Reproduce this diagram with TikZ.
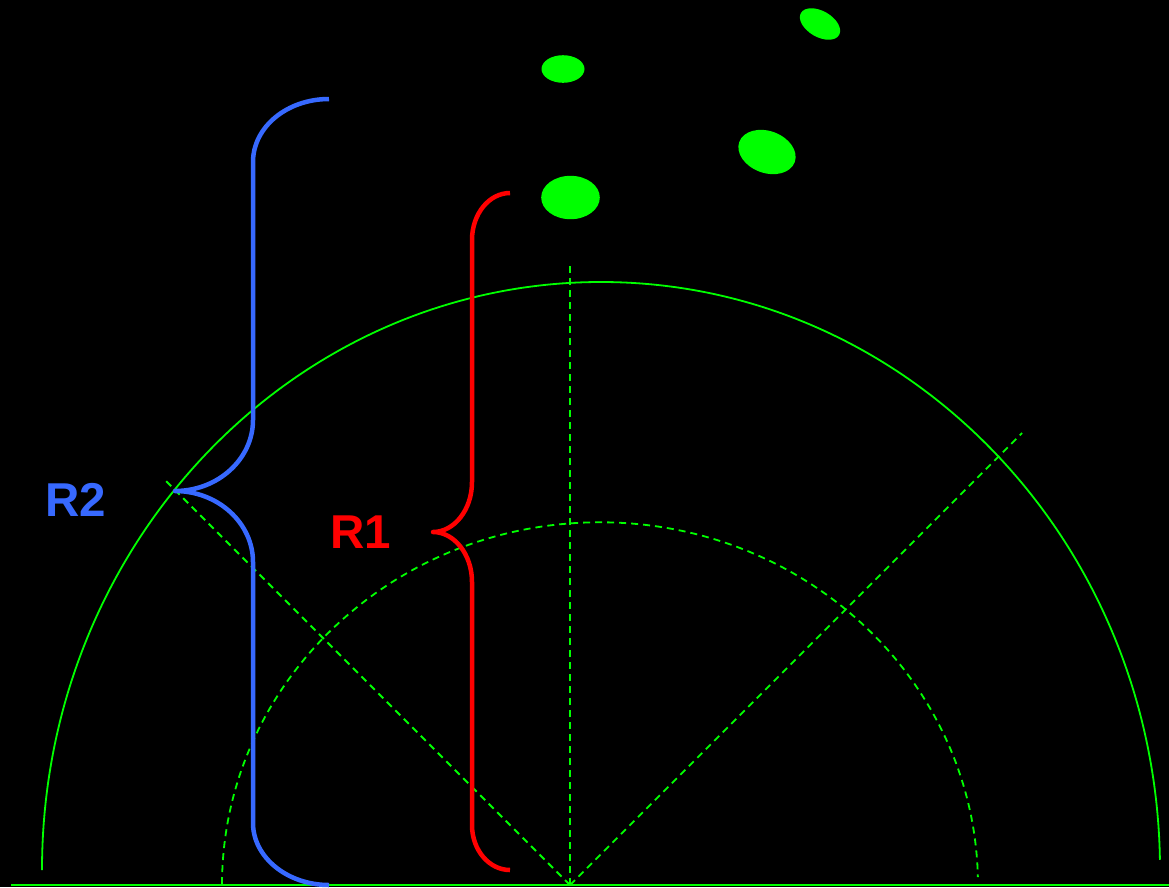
\documentclass[tikz,border=0pt]{standalone}
\usepackage{fontspec}
\newfontfamily\lblfont{Liberation Sans}
\usetikzlibrary{shapes.geometric}
\definecolor{lime}{RGB}{0,255,0}
\definecolor{bracblue}{RGB}{55,105,255}
\definecolor{bracred}{RGB}{255,0,0}
\begin{document}
\begin{tikzpicture}[x=1pt,y=-1pt,
  guide/.style={draw=lime,line width=1.8pt,dash pattern=on 7pt off 5pt},
  rim/.style={draw=lime,line width=1.8pt},
  blob/.style={ellipse,fill=lime,draw=none,inner sep=0pt},
  bracket/.style={line width=4.5pt,line cap=butt,line join=round},
  lbl/.style={font=\lblfont\bfseries\fontsize{47.5}{50}\selectfont,inner sep=0pt}]
\fill[black] (0,0) rectangle (1169,887);
\useasboundingbox (0,0) rectangle (1169,887);

% ground line
\coordinate (gl) at (11,885);
\coordinate (gr) at (1169,885);
\draw[lime,line width=2pt] (gl) -- (gr);

% outer solid arc and inner dashed arc
\draw[rim] (42,870) arc[start angle=180,end angle=1,x radius=559pt,y radius=588pt];
\draw[guide] (222,884) arc[start angle=179.8,end angle=1.3,x radius=378pt,y radius=363pt];

% dashed rays from the common origin
\coordinate (O) at (570,885);
\coordinate (up) at (570,266);
\coordinate (ul) at (163,478);
\coordinate (ur) at (1022,433);
\draw[guide] (O) -- (up);
\draw[guide] (O) -- (ul);
\draw[guide] (O) -- (ur);

% blobs
\node[blob,minimum width=43pt,minimum height=27.6pt] (e1) at (563,69) {};
\node[blob,minimum width=44pt,minimum height=26pt,rotate=-30] (e2) at (820,24) {};
\node[blob,minimum width=59pt,minimum height=42pt,rotate=-20] (e3) at (767,152) {};
\node[blob,minimum width=58.6pt,minimum height=43.4pt] (e4) at (570.5,197.5) {};

% outer brace
\coordinate (b2top) at (329,99);
\coordinate (b2tip) at (175,491);
\coordinate (b2bot) at (329,885);
\draw[bracket,bracblue] (b2top) .. controls (287,99) and (253,127) .. (253,162)
  -- (253,420) .. controls (253,459) and (218,491) .. (b2tip)
  .. controls (218,491) and (253,523) .. (253,562)
  -- (253,823) .. controls (253,857) and (287,885) .. (b2bot);

% inner brace
\coordinate (b1top) at (510,193);
\coordinate (b1tip) at (433,532);
\coordinate (b1bot) at (510,870);
\draw[bracket,bracred] (b1top) .. controls (489,193) and (472,214) .. (472,240)
  -- (472,482) .. controls (472,510) and (454,532) .. (b1tip)
  .. controls (454,532) and (472,554) .. (472,582)
  -- (472,825) .. controls (472,850) and (489,870) .. (b1bot);

% labels
\node[lbl,text=bracblue] (r2) at (76,500) {R2};
\node[lbl,text=bracred] (r1) at (361,532) {R1};
\end{tikzpicture}
\end{document}
